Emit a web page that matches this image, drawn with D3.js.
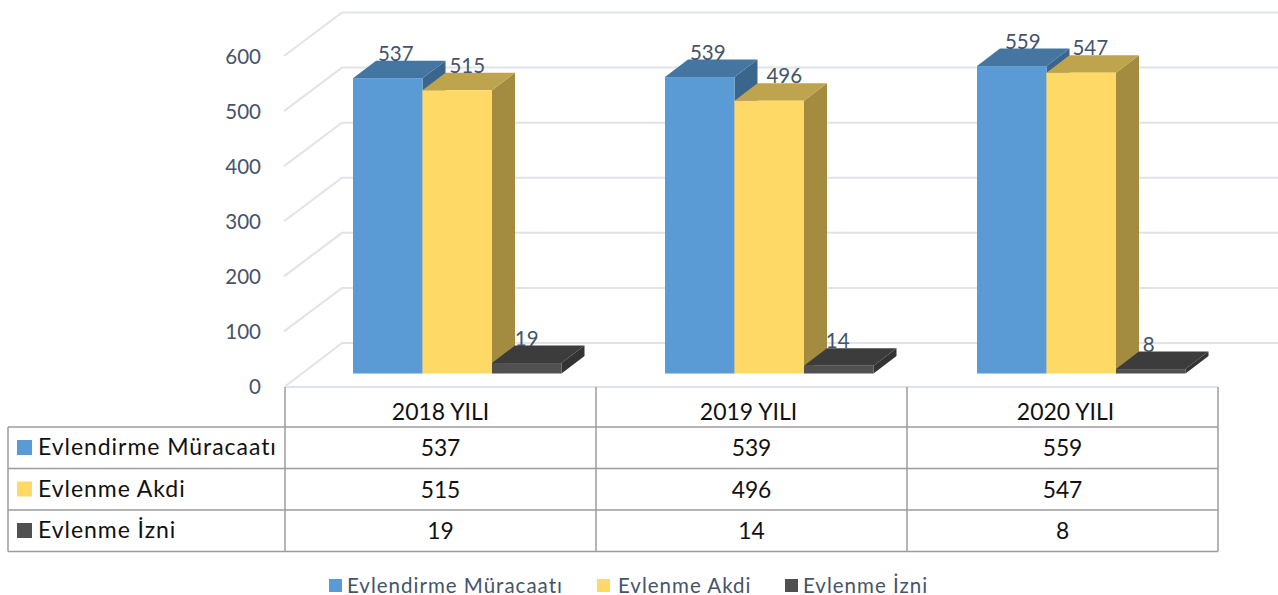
<!DOCTYPE html>
<html>

<head>
  <meta charset="utf-8" />
  <title>Evlendirme</title>
  <script src="https://d3js.org/d3.v7.min.js"></script>
  <style>
    html, body {
      margin: 0;
      padding: 0;
      background: #fff;
      overflow: hidden;
    }

    svg {
      display: block;
      font-family: Lato, "Open Sans", sans-serif;
    }

    .tick-label text {
      font-size: 20.5px;
      fill: #44546a;
    }

    .bar-label {
      font-size: 20.5px;
      fill: #44546a;
      text-anchor: middle;
    }

    .table-text {
      font-size: 23px;
      fill: #111;
    }

    .table-value {
      font-size: 22.8px;
      fill: #111;
      text-anchor: middle;
    }

    .row-name {
      letter-spacing: 0.95px;
    }

    .legend-text {
      font-size: 20.5px;
      fill: #44546a;
      letter-spacing: 1px;
    }
  </style>
</head>

<body>
  <svg id="chart" width="1278" height="595"></svg>
  <script>
    var years = ["2018 YILI", "2019 YILI", "2020 YILI"];
    var seriesNames = ["Evlendirme Müracaatı", "Evlenme Akdi", "Evlenme İzni"];
    var muracaat = [537, 539, 559];
    var akdi = [515, 496, 547];
    var izni = [19, 14, 8];
    var yTicks = [0, 100, 200, 300, 400, 500, 600];

    var seriesValues = [muracaat, akdi, izni];
    var frontColors = ["#5b9bd5", "#ffd966", "#505050"];
    var topColors = ["#4576a1", "#bfa44e", "#3c3c3c"];
    var sideColors = ["#3a658c", "#a38c40", "#333333"];

    // depth of the fake 3d boxes
    var depthX = 23;
    var depthY = 17.5;

    var svg = d3.select("#chart");

    // table columns
    var x = d3.scaleBand().domain(years).range([285, 1218]);
    // the bar groups are spaced a little wider than the columns
    var xBars = d3.scaleBand().domain(years).range([353, 1289]);
    var xSeries = d3.scaleBand().domain(d3.range(3)).range([0, 208.5]);
    var barHeight = d3.scaleLinear().domain([0, 600]).range([0, 330]);
    var yBack = d3.scaleLinear().domain([0, 600]).range([343, 12.5]);
    var yAxisScale = d3.scaleLinear().domain([0, 600]).range([387, 57]);
    var floorY = 373.5;

    // walls
    var gridColor = "#e1e3eb";
    svg.append("g").selectAll("path")
      .data(yTicks)
      .enter().append("path")
      .attr("d", function (d) {
        var yb = yBack(d);
        return "M" + (d === 0 ? 285 : 284) + "," + (yb + 43.5) + "L342," + yb + "L1278," + yb;
      })
      .attr("fill", "none")
      .attr("stroke", gridColor)
      .attr("stroke-width", 2);

    svg.append("line")
      .attr("x1", 285).attr("x2", 1218)
      .attr("y1", 387).attr("y2", 387)
      .attr("stroke", gridColor)
      .attr("stroke-width", 2);

    // y axis labels only
    var yAxis = d3.axisLeft(yAxisScale).tickValues(yTicks).tickSize(0).tickPadding(0);
    var yG = svg.append("g")
      .attr("class", "tick-label")
      .attr("transform", "translate(261,0)")
      .call(yAxis)
      .attr("font-family", null)
      .attr("font-size", null);
    yG.select(".domain").remove();

    // boxes, first series first so that the next one covers its side
    var labelNudge = [[8, 8, 11], [10, 15, 9], [0, -1, -2]];
    years.forEach(function (year, i) {
      var group = svg.append("g");
      seriesValues.forEach(function (values, s) {
        var x0 = xBars(year) + xSeries(s);
        var x1 = x0 + xSeries.bandwidth();
        var yTop = floorY - barHeight(values[i]);
        var box = group.append("g");

        box.append("polygon")
          .attr("points", [[x1, yTop], [x1 + depthX, yTop - depthY], [x1 + depthX, floorY - depthY], [x1, floorY]].join(" "))
          .attr("fill", sideColors[s]);
        box.append("polygon")
          .attr("points", [[x0, yTop], [x0 + depthX, yTop - depthY], [x1 + depthX, yTop - depthY], [x1, yTop]].join(" "))
          .attr("fill", topColors[s]);
        box.append("rect")
          .attr("x", x0)
          .attr("y", yTop)
          .attr("width", xSeries.bandwidth())
          .attr("height", barHeight(values[i]))
          .attr("fill", frontColors[s]);
      });
      // labels go on top of all three boxes
      seriesValues.forEach(function (values, s) {
        group.append("text")
          .attr("class", "bar-label")
          .attr("x", xBars(year) + xSeries(s) + xSeries.bandwidth() / 2 + labelNudge[s][i])
          .attr("y", floorY - barHeight(values[i]) - depthY)
          .text(values[i]);
      });
    });

    // data table
    var rowLines = [427, 468.5, 510, 551.5];
    var rowScale = d3.scaleBand().domain(d3.range(3)).range([427, 551.5]);
    var tableColor = "#9c9c9c";
    var table = svg.append("g");

    rowLines.forEach(function (y) {
      table.append("line")
        .attr("x1", 8).attr("x2", 1218)
        .attr("y1", y).attr("y2", y)
        .attr("stroke", tableColor)
        .attr("stroke-width", 1.5);
    });
    table.append("line")
      .attr("x1", 8).attr("x2", 8)
      .attr("y1", 427).attr("y2", 551.5)
      .attr("stroke", tableColor)
      .attr("stroke-width", 1.5);
    x.domain().concat(["end"]).forEach(function (year) {
      var lineX = year === "end" ? 1218 : x(year);
      table.append("line")
        .attr("x1", lineX).attr("x2", lineX)
        .attr("y1", 387).attr("y2", 551.5)
        .attr("stroke", tableColor)
        .attr("stroke-width", 1.5);
    });

    // header row, the headers are not quite centred in the original
    var headerNudge = [0, -3, 3];
    years.forEach(function (year, i) {
      table.append("text")
        .attr("class", "table-text")
        .attr("x", x(year) + x.bandwidth() / 2 + headerNudge[i])
        .attr("y", 420)
        .attr("text-anchor", "middle")
        .text(year);
    });

    seriesNames.forEach(function (name, s) {
      var rowY = rowScale(s);
      table.append("rect")
        .attr("x", 17)
        .attr("y", rowY + 13)
        .attr("width", 15)
        .attr("height", 15)
        .attr("fill", frontColors[s]);
      table.append("text")
        .attr("class", "table-text row-name")
        .attr("x", 38)
        .attr("y", rowY + 28)
        .text(name);
      seriesValues[s].forEach(function (v, i) {
        table.append("text")
          .attr("class", "table-value")
          .attr("x", x(years[i]) + x.bandwidth() / 2)
          .attr("y", rowY + 29)
          .text(v);
      });
    });

    // bottom legend, sits right at the edge of the picture like the original
    var legendX = [329, 597, 785];
    seriesNames.forEach(function (name, s) {
      svg.append("rect")
        .attr("x", legendX[s])
        .attr("y", 579)
        .attr("width", 13)
        .attr("height", 13)
        .attr("fill", frontColors[s]);
      svg.append("text")
        .attr("class", "legend-text")
        .attr("x", legendX[s] + (s === 1 ? 21 : 18))
        .attr("y", 593)
        .text(name);
    });
  </script>
</body>

</html>
